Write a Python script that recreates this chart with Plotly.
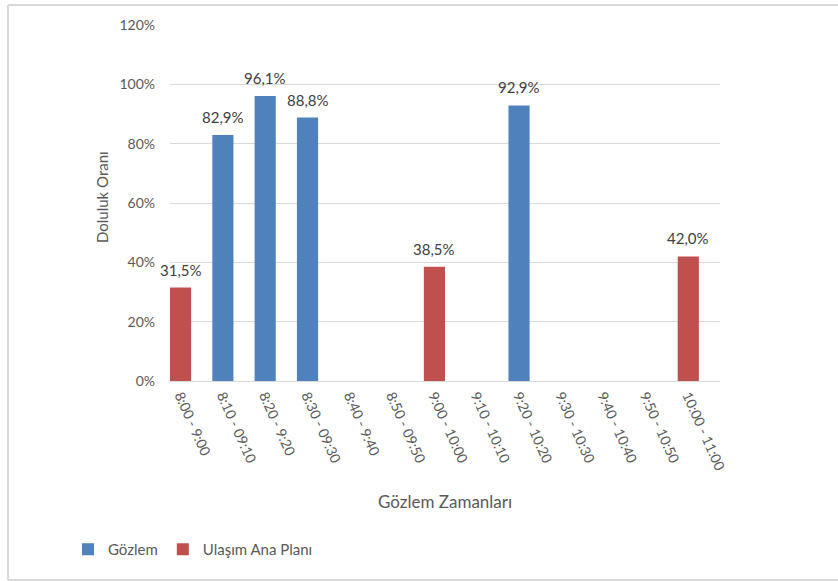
import plotly.graph_objects as go

# Observation time windows (x categories)
periods = [
    "8:00 - 9:00", "8:10 - 09:10", "8:20 - 9:20", "8:30 - 09:30",
    "8:40 - 9:40", "8:50 - 09:50", "9:00 - 10:00", "9:10 - 10:10",
    "9:20 - 10:20", "9:30 - 10:30", "9:40 - 10:40", "9:50 - 10:50",
    "10:00 - 11:00",
]

# Occupancy rates in percent (None = no value for that window)
gozlem = [None, 82.9, 96.1, 88.8, None, None, None, None, 92.9, None, None, None, None]
ulasim_plani = [31.5, None, None, None, None, None, 38.5, None, None, None, None, None, 42.0]

y_ticks = [0, 20, 40, 60, 80, 100, 120]

BLUE = "#4f81bd"
RED = "#c0504d"
FONT = "Lato, 'Open Sans', sans-serif"


def tr_label(v):
    return f"{v:.1f}".replace(".", ",") + "%"


fig = go.Figure()
value_labels = []
for name, vals, color in [("Gözlem", gozlem, BLUE), ("Ulaşım Ana Planı", ulasim_plani, RED)]:
    fig.add_trace(go.Bar(
        x=periods, y=vals, name=name,
        marker=dict(color=color, line=dict(width=0)),
        width=0.5,
    ))
    # value labels above each bar, Turkish decimal comma
    for cat, v in zip(periods, vals):
        if v is None:
            continue
        value_labels.append(dict(
            x=cat, y=v, xref="x", yref="y", text=tr_label(v), showarrow=False,
            xanchor="center", yanchor="bottom", yshift=7,
            font=dict(family=FONT, size=15, color="#404040"),
        ))

L, R, T, B = 170, 118, 25, 200
W, H = 838, 581
pw, ph = W - L - R, H - T - B


def px_x(x):
    return (x - L) / pw


def px_y(y):
    return (H - B - y) / ph


fig.update_layout(
    width=W, height=H,
    margin=dict(l=L, r=R, t=T, b=B),
    paper_bgcolor="white", plot_bgcolor="white",
    barmode="overlay",
    font=dict(family=FONT, color="#595959", size=13),
    showlegend=True,
    legend=dict(
        orientation="h", x=px_x(68), y=px_y(533), xanchor="left", yanchor="top",
        font=dict(family=FONT, size=15, color="#595959"),
        itemwidth=30, tracegroupgap=0,
    ),
    xaxis=dict(
        type="category", range=[-0.25, 12.75],
        tickangle=66, showgrid=False,
        showline=True, linecolor="#d9d9d9", linewidth=1,
        ticks="", tickfont=dict(family=FONT, size=14, color="#595959"),
    ),
    yaxis=dict(
        range=[0, 120], tickvals=y_ticks, ticktext=[f"{t}%" for t in y_ticks],
        showgrid=True, gridcolor="#d9d9d9", gridwidth=1,
        zeroline=False, showline=False, ticks="",
        tickfont=dict(family=FONT, size=14, color="#595959"),
        ticklabelstandoff=14,
    ),
    annotations=value_labels + [
        dict(text="Doluluk Oranı", xref="paper", yref="paper",
             x=px_x(102), y=px_y(197), textangle=-90, showarrow=False,
             font=dict(family=FONT, size=15, color="#595959"),
             xanchor="center", yanchor="middle"),
        dict(text="Gözlem Zamanları", xref="paper", yref="paper",
             x=px_x(445), y=px_y(501), showarrow=False,
             font=dict(family=FONT, size=17, color="#595959"),
             xanchor="center", yanchor="middle"),
    ],
    shapes=[
        # chart-area border (left, top, bottom)
        dict(type="line", xref="paper", yref="paper", x0=px_x(8), x1=px_x(8),
             y0=px_y(5), y1=px_y(580), line=dict(color="#d9d9d9", width=2)),
        dict(type="line", xref="paper", yref="paper", x0=px_x(8), x1=px_x(840),
             y0=px_y(5), y1=px_y(5), line=dict(color="#d9d9d9", width=2)),
        dict(type="line", xref="paper", yref="paper", x0=px_x(8), x1=px_x(840),
             y0=px_y(580), y1=px_y(580), line=dict(color="#d9d9d9", width=2)),
    ],
)

fig.write_html("out.html")
